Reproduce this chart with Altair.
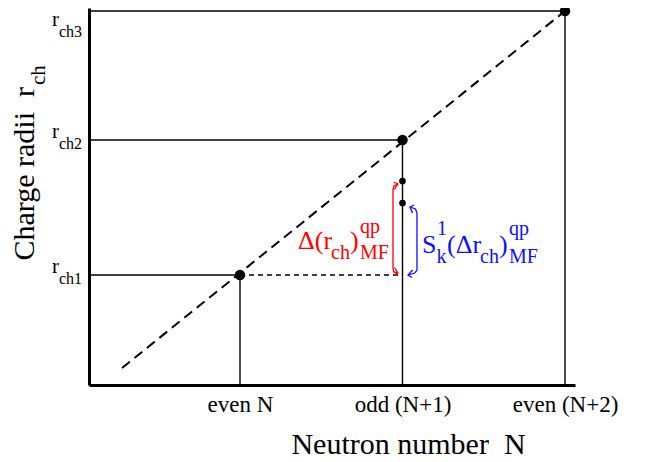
import altair as alt
import pandas as pd

# ---- values ----
n_pos = [2, 3, 4]                      # even N, odd (N+1), even (N+2)
n_labels = ["even N", "odd (N+1)", "even (N+2)"]
r_levels = [1.10, 2.45, 3.74]          # r_ch1, r_ch2, r_ch3
r_names = ["ch1", "ch2", "ch3"]
odd_pts = [2.04, 1.82]                 # two states of the odd nucleus
trend_x = [1.274, 4.0]                 # dashed trend line ends
trend_y = [0.17, 3.74]

X_DOM = [1.0708, 4.0615]
Y_DOM = [0.0, 3.77]
FONT = "Liberation Serif"
NB = "\u00a0"

xs = alt.Scale(domain=X_DOM, nice=False, zero=False)
ys = alt.Scale(domain=Y_DOM, nice=False, zero=False)

label_expr = " : ".join(
    f"datum.value == {v} ? '{t}'" for v, t in zip(n_pos[:-1], n_labels[:-1])) + f" : '{n_labels[-1]}'"

x_axis = alt.Axis(values=n_pos, labelExpr=label_expr,
                  ticks=False, tickSize=0, grid=False, domainColor="black", domainWidth=3,
                  labelFont=FONT, labelFontSize=23, labelColor="black", labelPadding=26,
                  labelBaseline="alphabetic", labelFlush=False, labelOverlap=False,
                  title="Neutron number " + NB + "N", titleFont=FONT, titleFontSize=30,
                  titleFontWeight="normal", titleColor="black", titleX=319, titleY=68,
                  titleAlign="center", titleBaseline="alphabetic")
y_axis = alt.Axis(ticks=False, labels=False, grid=False, domainColor="black",
                  domainWidth=3, title=None)

def X(f):
    return alt.X(f, scale=xs, axis=x_axis)

def Y(f):
    return alt.Y(f, scale=ys, axis=y_axis)

# guide lines
hz = pd.DataFrame({"x0": [X_DOM[0]] * 3, "x1": n_pos, "y": r_levels})
vt = pd.DataFrame({"x": n_pos, "y0": [Y_DOM[0]] * 3, "y1": r_levels})
dh = pd.DataFrame({"x0": [n_pos[0]], "x1": [n_pos[1]], "y": [r_levels[0]]})
trend = pd.DataFrame({"x": trend_x, "y": trend_y})
big = pd.DataFrame({"x": n_pos, "y": r_levels})
small = pd.DataFrame({"x": [n_pos[1]] * 2, "y": odd_pts})

hz_l = alt.Chart(hz).mark_rule(color="black", strokeWidth=1.4).encode(
    x=X("x0:Q"), x2="x1:Q", y=Y("y:Q"))
vt_l = alt.Chart(vt).mark_rule(color="black", strokeWidth=1.4).encode(
    x=X("x:Q"), y=Y("y0:Q"), y2="y1:Q")
dh_l = alt.Chart(dh).mark_rule(color="black", strokeWidth=1.3, strokeDash=[5, 4]).encode(
    x=X("x0:Q"), x2="x1:Q", y=Y("y:Q"))
trend_l = alt.Chart(trend).mark_line(color="black", strokeWidth=2, strokeDash=[10, 6]).encode(
    x=X("x:Q"), y=Y("y:Q"))
big_l = alt.Chart(big).mark_point(filled=True, color="black", size=110, opacity=1).encode(
    x=X("x:Q"), y=Y("y:Q"))
small_l = alt.Chart(small).mark_point(filled=True, color="black", size=45, opacity=1).encode(
    x=X("x:Q"), y=Y("y:Q"))

# y tick labels r_ch1..3 (the top one nudged down so it stays on the page)
ylab = pd.DataFrame({"y": r_levels, "r": ["r"] * 3, "sub": r_names})

def ylabel_layers(df, shift):
    r_l = alt.Chart(df).mark_text(font=FONT, fontSize=21, align="right", baseline="alphabetic",
                                  color="black", dy=shift).encode(
        x=alt.value(-30), y=Y("y:Q"), text="r:N")
    s_l = alt.Chart(df).mark_text(font=FONT, fontSize=16, align="left", baseline="alphabetic",
                                  color="black", dy=shift + 11).encode(
        x=alt.value(-30), y=Y("y:Q"), text="sub:N")
    return [r_l, s_l]

ylab_layers = ylabel_layers(ylab.iloc[:2], -2) + ylabel_layers(ylab.iloc[2:], 15)

# y-axis title with subscript
ytitle = alt.Chart(pd.DataFrame({"t": ["Charge radii " + NB + "r"]})).mark_text(
    font=FONT, fontSize=30, angle=270, align="right", baseline="alphabetic", color="black").encode(
    x=alt.value(-55), y=alt.value(79), text="t:N")
ytitle_s = alt.Chart(pd.DataFrame({"t": ["ch"]})).mark_text(
    font=FONT, fontSize=21, angle=270, align="left", baseline="alphabetic", color="black").encode(
    x=alt.value(-44), y=alt.value(77), text="t:N")

# annotation labels (positions in data units)
red_parts = pd.DataFrame({
    "t": ["Δ(r", "ch", ")", "qp", "MF"],
    "x": [2.357, 2.56, 2.677, 2.738, 2.738],
    "y": [1.36, 1.26, 1.36, 1.52, 1.26],
    "s": [26, 20, 26, 20, 20]})
blue_parts = pd.DataFrame({
    "t": ["S", "k", "1", "(Δr", "ch", ")", "qp", "MF"],
    "x": [3.12, 3.209, 3.212, 3.274, 3.477, 3.594, 3.655, 3.655],
    "y": [1.32, 1.22, 1.50, 1.32, 1.22, 1.32, 1.50, 1.22],
    "s": [26, 20, 20, 26, 20, 26, 20, 20]})

def parts_layer(df, color):
    return alt.Chart(df).mark_text(font=FONT, align="left", baseline="alphabetic", color=color).encode(
        x=X("x:Q"), y=Y("y:Q"), text="t:N",
        size=alt.Size("s:Q", scale=None, legend=None))

# bracket arrows
red_arrow = pd.DataFrame({
    "g": ["a"] * 6 + ["b"] * 3 + ["c"] * 3,
    "o": list(range(6)) + list(range(3)) + list(range(3)),
    "x": [2.972, 2.947, 2.9415, 2.9415, 2.947, 2.972,
          2.945, 2.972, 2.950,
          2.945, 2.972, 2.950],
    "y": [2.01, 1.99, 1.95, 1.16, 1.13, 1.12,
          2.03, 2.01, 1.955,
          1.10, 1.12, 1.175]})
blue_arrow = pd.DataFrame({
    "g": ["a"] * 6 + ["b"] * 3 + ["c"] * 3,
    "o": list(range(6)) + list(range(3)) + list(range(3)),
    "x": [3.046, 3.080, 3.089, 3.089, 3.076, 3.034,
          3.072, 3.046, 3.062,
          3.062, 3.034, 3.058],
    "y": [1.78, 1.76, 1.72, 1.15, 1.12, 1.10,
          1.80, 1.78, 1.72,
          1.15, 1.10, 1.075]})

def arrow_layer(df, color):
    return alt.Chart(df).mark_line(color=color, strokeWidth=1.3).encode(
        x=X("x:Q"), y=Y("y:Q"), detail="g:N", order="o:Q")

chart = alt.layer(
    trend_l, hz_l, vt_l, dh_l, big_l, small_l,
    *ylab_layers, ytitle, ytitle_s,
    parts_layer(red_parts, "#ff0000"), parts_layer(blue_parts, "#1010ff"),
    arrow_layer(red_arrow, "#ff0000"), arrow_layer(blue_arrow, "#1010ff"),
).properties(
    width=486, height=377,
    autosize=alt.AutoSizeParams(type="none"),
    padding={"left": 81, "top": 0, "right": 68, "bottom": 77},
).configure_view(stroke=None)

chart.save("out.html", embed_options={"renderer": "svg", "actions": False})
